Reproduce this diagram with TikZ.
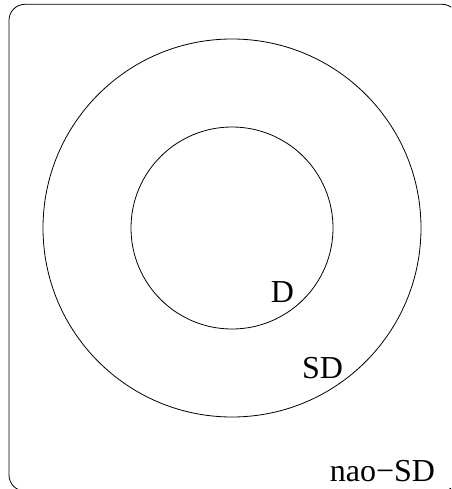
\documentclass[tikz,border=0pt]{standalone}
\usepackage{fontspec}
\setmainfont{Liberation Serif}
\begin{document}
\begin{tikzpicture}[x=1pt, y=-1pt, line width=0.8pt,
    every node/.style={font=\fontsize{32}{38}\selectfont, inner sep=0pt, anchor=base}]
    \useasboundingbox (0,0) rectangle (451,489);
    \clip (0,0) rectangle (451,489);
    \draw[rounded corners=16pt] (9,4.3) rectangle (458,491);
    \draw (232,228) circle[radius=189pt];
    \draw (232,228) circle[radius=101pt];
    \node (d) at (282.5,302.7) {D};
    \node (sd) at (322.5,378.3) {SD};
    \node (naosd) at (382.5,481.7) {nao−SD};
\end{tikzpicture}
\end{document}
